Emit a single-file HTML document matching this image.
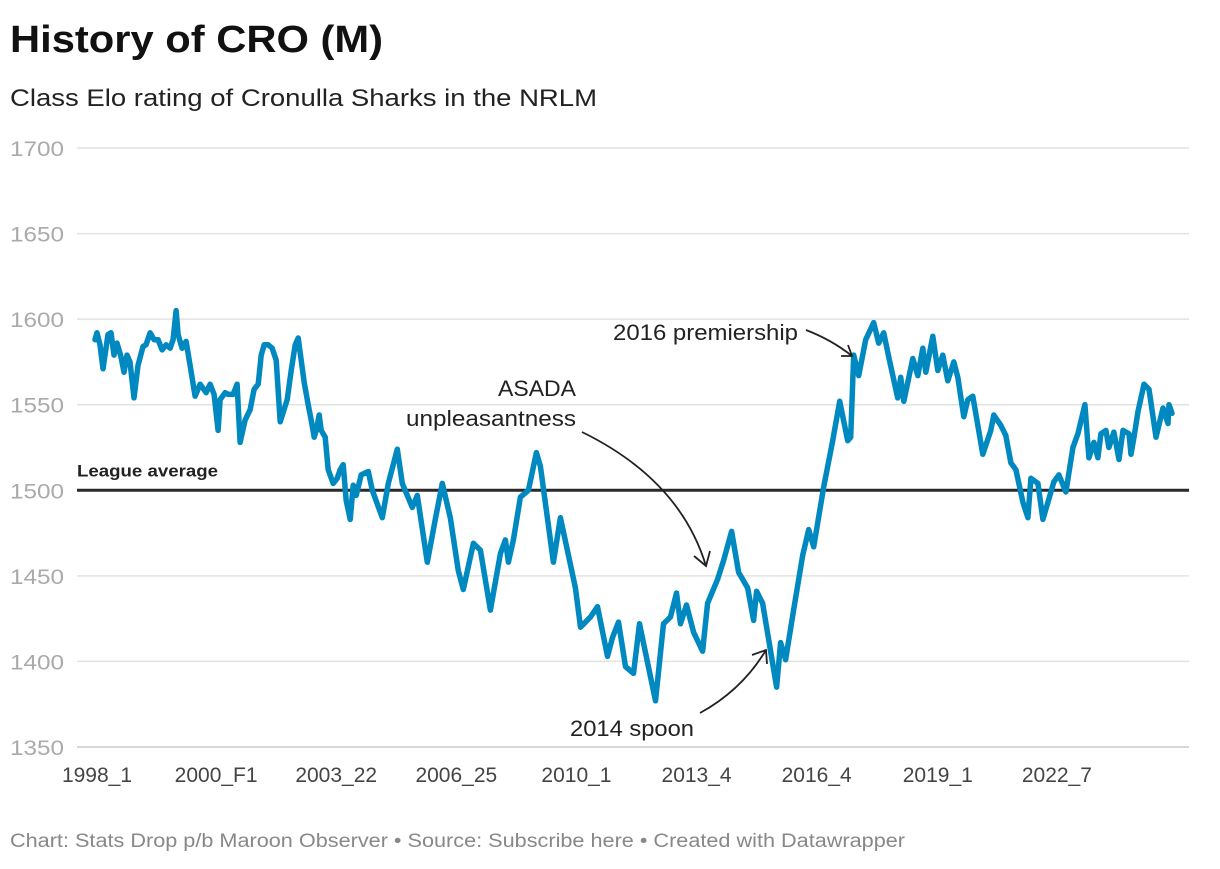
<!DOCTYPE html>
<html><head><meta charset="utf-8"><style>
body{margin:0;background:#fff;font-family:"Liberation Sans",sans-serif;}
svg text{font-family:"Liberation Sans",sans-serif;}
</style></head><body>
<svg id="c" width="1220" height="864">
<text x="10" y="52" font-size="38" font-weight="bold" fill="#111" textLength="373" lengthAdjust="spacingAndGlyphs">History of CRO (M)</text>
<text x="10" y="106" font-size="24" fill="#222" textLength="587" lengthAdjust="spacingAndGlyphs">Class Elo rating of Cronulla Sharks in the NRLM</text>
<g id="grid"></g>
<g id="xt"></g>
<g id="ln"></g>
<g id="ann"></g>
<text x="10" y="847" font-size="19" fill="#888" textLength="895" lengthAdjust="spacingAndGlyphs">Chart: Stats Drop p/b Maroon Observer • Source: Subscribe here • Created with Datawrapper</text>
</svg>
<script>
const yTicks=[1350,1400,1450,1500,1550,1600,1650,1700];
const xTickLabels=["1998_1","2000_F1","2003_22","2006_25","2010_1","2013_4","2016_4","2019_1","2022_7"];
const xTickRounds=[2,121,241,361,481,601,721,842,961];
const rounds=[0,2,5,8,13,16,19,22,26,29,32,35,39,43,48,51,55,59,63,67,71,75,78,81,83,87,91,95,100,105,111,115,119,123,125,130,133,138,142,145,150,155,159,163,166,169,173,177,181,185,192,196,200,203,206,209,213,216,219,221,224,226,230,233,238,242,245,248,251,255,258,261,266,273,277,287,293,302,307,317,322,332,340,347,355,363,368,378,385,395,405,410,413,418,425,433,441,445,458,465,480,485,495,502,512,517,523,530,538,544,560,568,575,581,585,591,598,607,612,622,628,636,643,652,658,661,667,681,685,690,698,707,713,718,728,737,744,752,755,758,763,770,778,783,788,793,802,805,808,817,822,827,830,837,842,847,852,858,862,868,872,877,887,895,898,905,910,915,920,927,932,935,942,947,952,958,963,970,977,982,989,993,998,1002,1005,1010,1013,1018,1023,1027,1033,1035,1038,1042,1048,1053,1060,1067,1072,1073,1076];
const elo=[1588,1592,1585,1571,1591,1592,1579,1586,1578,1569,1579,1575,1554,1573,1584,1585,1592,1588,1588,1582,1585,1583,1588,1605,1591,1583,1587,1573,1555,1562,1557,1562,1556,1535,1553,1557,1556,1556,1562,1528,1541,1547,1559,1562,1579,1585,1585,1583,1576,1540,1553,1570,1585,1589,1576,1563,1550,1541,1531,1535,1544,1535,1531,1512,1504,1507,1512,1515,1494,1483,1503,1497,1509,1511,1500,1484,1504,1524,1504,1490,1497,1458,1483,1504,1484,1453,1442,1469,1465,1430,1463,1471,1458,1471,1496,1500,1522,1514,1458,1484,1443,1420,1426,1432,1403,1414,1423,1397,1393,1422,1377,1422,1426,1440,1422,1433,1417,1406,1434,1448,1459,1476,1452,1443,1424,1441,1434,1385,1411,1401,1430,1462,1477,1467,1502,1529,1552,1529,1531,1579,1567,1588,1598,1586,1592,1578,1554,1566,1552,1577,1567,1583,1569,1590,1570,1579,1564,1575,1566,1543,1553,1555,1521,1535,1544,1538,1532,1516,1512,1493,1484,1507,1504,1483,1493,1505,1509,1499,1525,1533,1550,1519,1528,1519,1533,1535,1525,1534,1518,1535,1533,1521,1531,1546,1562,1559,1531,1548,1539,1550,1545];
const leagueAvg=1500;
const NS="http://www.w3.org/2000/svg";
const X=r=>95+r*(1077/1076);
const Y=v=>148+(1700-v)*(599/350);
function mk(p,t,a){const e=document.createElementNS(NS,t);for(const k in a)e.setAttribute(k,a[k]);p.appendChild(e);return e;}
const grid=document.getElementById('grid');
yTicks.forEach(v=>{
 const l=mk(grid,'line',{x1:77,x2:1189,y1:Y(v),y2:Y(v),stroke:v===1350?'#ccc':'#e2e2e2','stroke-width':1.5});
 
 
 const t=mk(grid,'text',{x:10,y:Y(v)+8,'font-size':21,fill:'#aaa',textLength:54,lengthAdjust:'spacingAndGlyphs'});t.textContent=v;
 
 
});
const xt=document.getElementById('xt');
xTickLabels.forEach((s,i)=>{
 const t=mk(xt,'text',{x:X(xTickRounds[i]),y:782,'font-size':21,fill:'#444','text-anchor':'middle'});t.textContent=s;
 
 
});
const ln=document.getElementById('ln');
const avg=mk(ln,'line',{x1:77,x2:1189,y1:Y(leagueAvg),y2:Y(leagueAvg),stroke:'#2a2a2a','stroke-width':3});


const al=mk(ln,'text',{x:77,y:Y(leagueAvg)-14,'font-size':17,'font-weight':'bold',fill:'#222',textLength:141,lengthAdjust:'spacingAndGlyphs'});al.textContent='League average';


const d=rounds.map((r,i)=>(i?'L':'M')+X(r).toFixed(1)+','+Y(elo[i]).toFixed(1)).join('');
const p=mk(ln,'path',{d:d,fill:'none',stroke:'#0089c0','stroke-width':5.5,'stroke-linejoin':'round','stroke-linecap':'round'});


const ann=document.getElementById('ann');
function txt(x,y,s,len,n){const t=mk(ann,'text',{x:x,y:y,'font-size':22,fill:'#222',textLength:len,lengthAdjust:'spacingAndGlyphs'});t.textContent=s;}
txt(613,340,'2016 premiership',185,'annotation-premiership');
txt(498,396,'ASADA',78,'annotation-asada');
txt(406,426,'unpleasantness',170,'annotation-asada-2');
txt(570,736,'2014 spoon',124,'annotation-spoon');
function arrow(d,n){const a=mk(ann,'path',{d:d,fill:'none',stroke:'#222','stroke-width':1.8});}
arrow('M806,330 Q832,340 852,356 M841,356 L852,356 L848,345','arrow-premiership');
arrow('M582,432 Q680,480 706,566 M694,556 L706,566 L710,551','arrow-asada');
arrow('M700,713 Q742,690 766,650 M752,655 L766,650 L767,664','arrow-spoon');
</script>
</body></html>
